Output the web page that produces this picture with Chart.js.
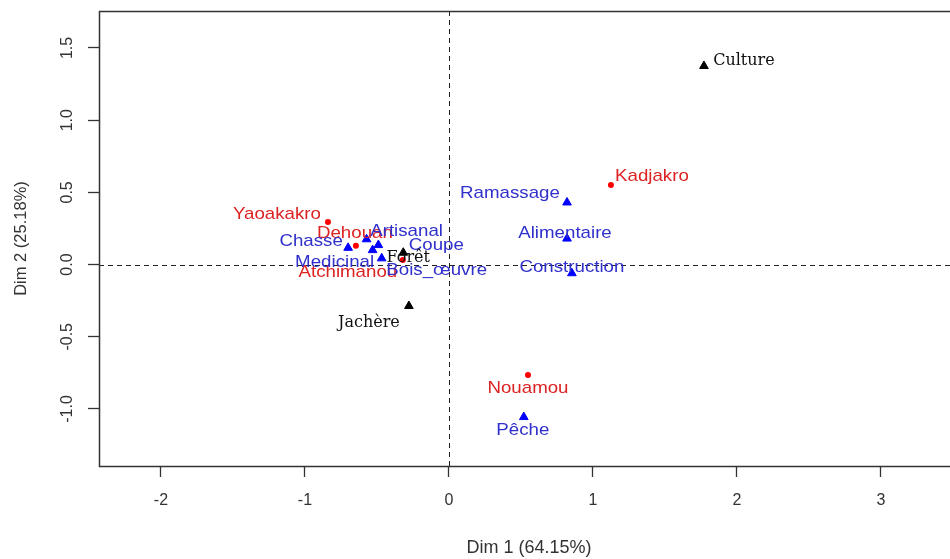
<!DOCTYPE html>
<html><head><meta charset="utf-8">
<script src="https://cdn.jsdelivr.net/npm/chart.js@4"></script>
<style>html,body{margin:0;padding:0;background:#fff}canvas{display:block}</style>
</head><body>
<canvas id="c" width="950" height="559"></canvas>
<script>
// ---- data ----
const rowNames = ['Yaoakakro', 'Dehouan', 'Atchimanou', 'Kadjakro', 'Nouamou'];
const rowDim1  = [-0.840, -0.646, -0.320, 1.125, 0.549];
const rowDim2  = [ 0.294,  0.130,  0.031, 0.551, -0.765];

const colNames = ['Chasse', 'Artisanal', 'Medicinal', 'Coupe', 'Bois_œuvre', 'Ramassage', 'Alimentaire', 'Construction', 'Pêche'];
const colDim1  = [-0.700, -0.572, -0.530, -0.490, -0.467, 0.820, 0.820, 0.854, 0.520];
const colDim2  = [ 0.116,  0.175,  0.100,  0.135,  0.043, 0.430, 0.180, -0.060, -1.056];

const supNames = ['Culture', 'Forêt', 'Jachère'];
const supDim1  = [1.771, -0.317, -0.278];
const supDim2  = [1.375,  0.082, -0.287];

const xTicks = [-2, -1, 0, 1, 2, 3];
const yTicks = [-1.0, -0.5, 0.0, 0.5, 1.0, 1.5];
const xTitle = 'Dim 1 (64.15%)';
const yTitle = 'Dim 2 (25.18%)';

// ---- label placement (pixel offsets of label centre from its point) ----
const labelOffsets = {
  'Yaoakakro': [-51, -8], 'Dehouan': [-1, -12], 'Atchimanou': [-55, 12],
  'Kadjakro': [41, -9], 'Nouamou': [0, 13],
  'Chasse': [-37, -7], 'Artisanal': [40, -8], 'Medicinal': [-38, 12],
  'Coupe': [58, 0], 'Bois_œuvre': [55, 12], 'Ramassage': [-57, -9],
  'Alimentaire': [-2, -5], 'Construction': [0, -6], 'Pêche': [-1, 13],
  'Culture': [40, -5], 'Forêt': [5, 5], 'Jachère': [-40, 17]
};

const toPts = (a, b) => a.map((v, i) => ({x: v, y: b[i]}));
const SANS = "'Liberation Sans', Arial, sans-serif";

const groups = [
  {names: rowNames, color: '#ff0000', text: '#dd2222', font: "17px " + SANS, stretch: 1.1},
  {names: colNames, color: '#0000ff', text: '#3030cc', font: "17px " + SANS, stretch: 1.1},
  {names: supNames, color: '#000000', text: '#111111', font: "16px 'DejaVu Serif', serif", stretch: 1.0}
];

const biplot = {
  id: 'biplot',
  beforeDatasetsDraw(chart) {
    const {ctx, chartArea: a, scales: {x, y}} = chart;
    ctx.save();
    ctx.strokeStyle = '#222'; ctx.lineWidth = 1; ctx.setLineDash([5, 4]);
    const x0 = Math.round(x.getPixelForValue(0)) + 0.5;
    const y0 = Math.round(y.getPixelForValue(0)) + 0.5;
    ctx.beginPath();
    ctx.moveTo(x0, a.top); ctx.lineTo(x0, a.bottom);
    ctx.moveTo(a.left, y0); ctx.lineTo(chart.width, y0);
    ctx.stroke();
    ctx.restore();
  },
  afterDatasetsDraw(chart) {
    const {ctx} = chart;
    chart.data.datasets.forEach((ds, di) => {
      const g = groups[di];
      const meta = chart.getDatasetMeta(di);
      meta.data.forEach((el, i) => {
        const name = g.names[i];
        const off = labelOffsets[name] || [0, -10];
        ctx.save();
        ctx.translate(el.x + off[0], el.y + off[1]);
        ctx.scale(g.stretch, 1);
        ctx.font = g.font;
        ctx.fillStyle = g.text;
        ctx.textAlign = 'center';
        ctx.textBaseline = 'middle';
        ctx.fillText(name, 0, 0);
        ctx.restore();
      });
    });
  },
  afterDraw(chart) {
    const {ctx, chartArea: a, scales: {y}} = chart;
    ctx.save();
    ctx.strokeStyle = '#333'; ctx.lineWidth = 1.5;
    ctx.strokeRect(a.left + 0.5, a.top + 0.5, chart.width, a.bottom - a.top);
    ctx.fillStyle = '#333';
    ctx.textAlign = 'center';
    ctx.textBaseline = 'middle';
    // x axis title (centred on the full plot region, which runs past the right edge)
    ctx.font = "18px " + SANS;
    ctx.fillText(xTitle, 529, 548);
    // y tick labels, rotated like R (las = 0)
    ctx.font = "16px " + SANS;
    y.ticks.forEach(t => {
      const py = y.getPixelForValue(t.value);
      ctx.save();
      ctx.translate(68, py);
      ctx.rotate(-Math.PI / 2);
      ctx.fillText(t.value.toFixed(1), 0, 0);
      ctx.restore();
    });
    ctx.restore();
  }
};

new Chart(document.getElementById('c'), {
  type: 'scatter',
  data: {
    datasets: [
      {data: toPts(rowDim1, rowDim2), pointStyle: 'circle', pointRadius: 3, backgroundColor: groups[0].color, borderColor: groups[0].color, borderWidth: 0},
      {data: toPts(colDim1, colDim2), pointStyle: 'triangle', pointRadius: 5, backgroundColor: groups[1].color, borderColor: groups[1].color, borderWidth: 1},
      {data: toPts(supDim1, supDim2), pointStyle: 'triangle', pointRadius: 5, backgroundColor: groups[2].color, borderColor: groups[2].color, borderWidth: 1}
    ]
  },
  options: {
    responsive: false,
    animation: false,
    devicePixelRatio: 1,
    layout: {padding: {top: 11, right: 0, bottom: 0, left: 0}},
    plugins: {legend: {display: false}, tooltip: {enabled: false}},
    elements: {point: {hoverRadius: 5}},
    scales: {
      x: {
        type: 'linear', min: -2.43, max: 3.438,
        afterBuildTicks: s => { s.ticks = xTicks.map(v => ({value: v})); },
        afterFit: s => { s.height = 93; },
        border: {display: false},
        grid: {drawOnChartArea: false, drawTicks: true, tickLength: 11, tickColor: '#333', tickWidth: 1.3},
        ticks: {callback: v => String(v), color: '#333', padding: 14, font: {family: SANS, size: 16}, maxRotation: 0},
        title: {display: false, text: xTitle}
      },
      y: {
        type: 'linear', min: -1.395, max: 1.756,
        afterBuildTicks: s => { s.ticks = yTicks.map(v => ({value: v})); },
        afterFit: s => { s.width = 99; },
        border: {display: false},
        grid: {drawOnChartArea: false, drawTicks: true, tickLength: 11, tickColor: '#333', tickWidth: 1.3},
        ticks: {display: false},
        title: {display: true, text: yTitle, color: '#333', font: {family: SANS, size: 16.5}, padding: {top: 12, bottom: 0}}
      }
    }
  },
  plugins: [biplot]
});
</script>
</body></html>
